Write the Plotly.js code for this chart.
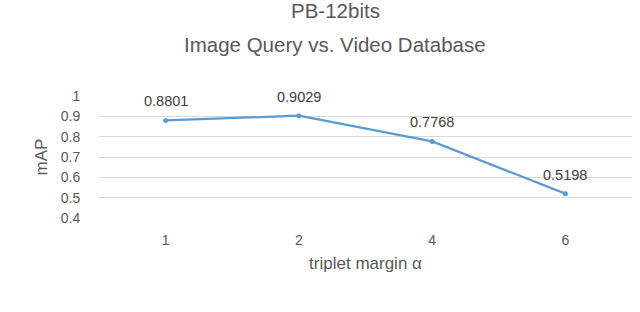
<!DOCTYPE html>
<html>
<head>
<meta charset="utf-8">
<script src="https://cdn.plot.ly/plotly-3.0.1.min.js"></script>
<style>html,body{margin:0;padding:0;background:#fff;}#chart{width:640px;height:312px;}</style>
</head>
<body>
<div id="chart"></div>
<script>
const margins = ["1", "2", "4", "6"];
const mapValues = [0.8801, 0.9029, 0.7768, 0.5198];
const valueLabels = ["0.8801", "0.9029", "0.7768", "0.5198"];
const yTicks = [0.4, 0.5, 0.6, 0.7, 0.8, 0.9, 1];
const yTickText = ["0.4", "0.5", "0.6", "0.7", "0.8", "0.9", "1"];

const textColor = "#595959";
const fontFamily = "Liberation Sans, Arial, sans-serif";

const trace = {
  x: margins,
  y: mapValues,
  type: "scatter",
  mode: "lines+markers",
  line: {color: "#5b9bd5", width: 2.25},
  marker: {color: "#5b9bd5", size: 5},
  hoverinfo: "none"
};

const annotations = margins.map((m, i) => ({
  x: i, y: mapValues[i], xref: "x", yref: "y",
  text: valueLabels[i], showarrow: false,
  xanchor: "center", yanchor: "middle", yshift: 19,
  font: {family: fontFamily, size: 14.5, color: "#404040"}
}));

const plotL = 99, plotR = 7.5, plotT = 95.7, plotB = 94.3;
const plotCenterX = plotL + (640 - plotL - plotR) / 2;
const titleCenterX = 335.5;

annotations.push({
  xref: "paper", yref: "paper", x: 0.5, y: 1, xanchor: "center", yanchor: "top",
  yshift: plotT + 2, xshift: titleCenterX - plotCenterX, borderpad: 0,
  text: "PB-12bits", showarrow: false,
  font: {family: fontFamily, size: 20.5, color: textColor}
});
annotations.push({
  xref: "paper", yref: "paper", x: 0.5, y: 1, xanchor: "center", yanchor: "middle",
  yshift: plotT - 44, xshift: titleCenterX - plotCenterX,
  text: "Image Query vs. Video Database", showarrow: false,
  font: {family: fontFamily, size: 20.5, color: textColor}
});

const layout = {
  width: 640, height: 312,
  margin: {l: plotL, r: plotR, t: plotT, b: plotB, pad: 0},
  paper_bgcolor: "#ffffff",
  plot_bgcolor: "#ffffff",
  showlegend: false,
  font: {family: fontFamily, color: textColor},
  xaxis: {
    type: "category",
    range: [-0.5, 3.5],
    showgrid: false, zeroline: false, showline: false,
    ticks: "outside", ticklen: 9, tickcolor: "rgba(0,0,0,0)",
    tickfont: {family: fontFamily, size: 14, color: textColor},
    title: {text: "triplet margin α", standoff: 10, font: {family: fontFamily, size: 17, color: textColor}}
  },
  yaxis: {
    range: [0.4, 1.0],
    tickvals: yTicks, ticktext: yTickText,
    showgrid: true, gridcolor: "#d9d9d9", gridwidth: 1,
    zeroline: false, showline: false,
    ticks: "outside", ticklen: 15, tickcolor: "rgba(0,0,0,0)",
    tickfont: {family: fontFamily, size: 14, color: textColor},
    title: {text: "mAP", standoff: 8, font: {family: fontFamily, size: 17, color: textColor}}
  },
  annotations: annotations
};

Plotly.newPlot("chart", [trace], layout, {staticPlot: true, displayModeBar: false});
</script>
</body>
</html>
